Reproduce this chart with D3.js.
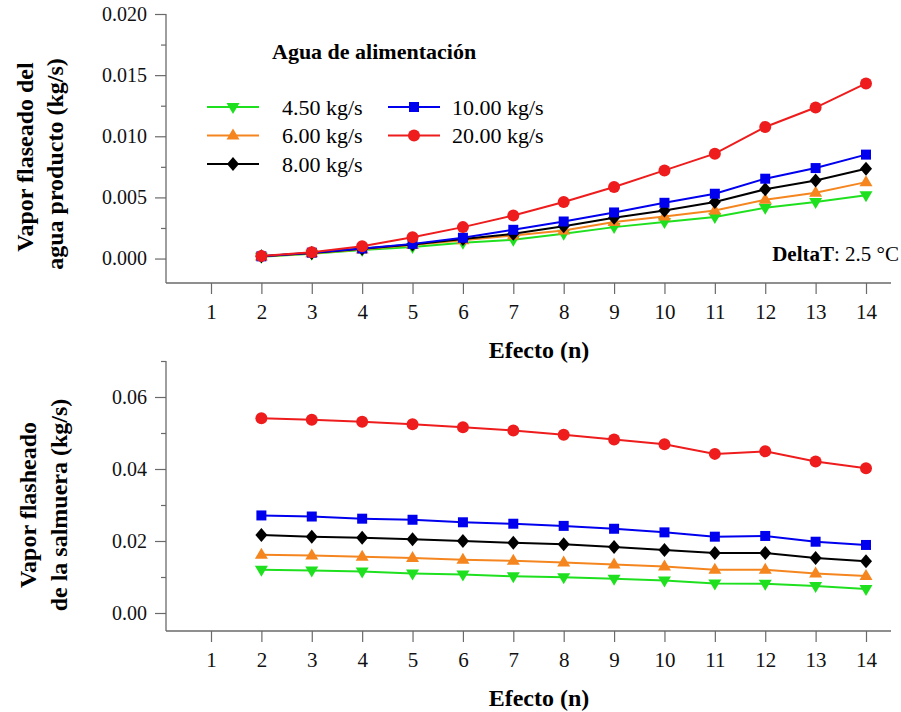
<!DOCTYPE html>
<html>
<head>
<meta charset="utf-8">
<script src="https://cdn.jsdelivr.net/npm/d3@7"></script>
<style>
  html, body { margin: 0; padding: 0; background: #fff; }
  svg { display: block; font-family: "Liberation Serif", "Times New Roman", serif; }
</style>
</head>
<body>
<svg id="chart" width="901" height="712"></svg>
<script>
// ---------------- DATA ----------------
const effects = [2, 3, 4, 5, 6, 7, 8, 9, 10, 11, 12, 13, 14];
const xTickValues = [1, 2, 3, 4, 5, 6, 7, 8, 9, 10, 11, 12, 13, 14];
const feedLabels = ["4.50 kg/s", "6.00 kg/s", "8.00 kg/s", "10.00 kg/s", "20.00 kg/s"];
const seriesColors = ["#1fe01f", "#f5861f", "#000000", "#0000ee", "#ee1c1c"];
const seriesMarkers = ["triangleDown", "triangleUp", "diamond", "square", "circle"];

// Top chart: Vapor flaseado del agua producto (kg/s)
const topFeed450 = [0.00015, 0.0004, 0.0007, 0.00095, 0.0013, 0.00153, 0.00202, 0.00257, 0.00298, 0.00339, 0.00415, 0.00462, 0.00518];
const topFeed600 = [0.00017, 0.00044, 0.00075, 0.0011, 0.0015, 0.00189, 0.0023, 0.00298, 0.00344, 0.00393, 0.00481, 0.00538, 0.00625];
const topFeed800 = [0.00018, 0.00046, 0.0008, 0.00115, 0.0016, 0.00202, 0.00265, 0.00333, 0.00393, 0.00462, 0.00566, 0.00639, 0.00735];
const topFeed1000 = [0.00018, 0.00048, 0.00082, 0.0012, 0.0017, 0.00235, 0.00303, 0.00377, 0.00456, 0.0053, 0.00653, 0.0074, 0.0085];
const topFeed2000 = [0.0002, 0.00052, 0.00101, 0.00175, 0.00257, 0.00352, 0.00462, 0.00585, 0.00721, 0.00858, 0.01076, 0.01235, 0.01432];

// Bottom chart: Vapor flasheado de la salmuera (kg/s)
const botFeed450 = [0.012, 0.0118, 0.0115, 0.011, 0.0107, 0.0102, 0.0099, 0.0095, 0.009, 0.0082, 0.0081, 0.0075, 0.0067];
const botFeed600 = [0.0162, 0.016, 0.0156, 0.0153, 0.0148, 0.0145, 0.014, 0.0135, 0.0129, 0.012, 0.012, 0.011, 0.0103];
const botFeed800 = [0.0217, 0.0212, 0.0209, 0.0205, 0.02, 0.0195, 0.0191, 0.0183, 0.0175, 0.0167, 0.0167, 0.0153, 0.0144];
const botFeed1000 = [0.0271, 0.0268, 0.0262, 0.0259, 0.0252, 0.0248, 0.0242, 0.0234, 0.0224, 0.0212, 0.0214, 0.0198, 0.0189];
const botFeed2000 = [0.0541, 0.0537, 0.0531, 0.0524, 0.0516, 0.0507, 0.0495, 0.0482, 0.0469, 0.0442, 0.0449, 0.0421, 0.0402];

const topMajorTicks = [0, 0.005, 0.010, 0.015, 0.020];
const topMinorTicks = [0.0025, 0.0075, 0.0125, 0.0175];
const botMajorTicks = [0, 0.02, 0.04, 0.06];
const botMinorTicks = [0.01, 0.03, 0.05, 0.07];

// ---------------- DRAW ----------------
const svg = d3.select("#chart");
const axisColor = "#6a6a6a";

function markerPath(type) {
  switch (type) {
    case "circle": return d3.symbol(d3.symbolCircle, Math.PI * 6 * 6)();
    case "square": return "M-5,-5H5V5H-5Z";
    case "diamond": return "M0,-7L6,0L0,7L-6,0Z";
    case "triangleUp": return "M0,-7L6.5,4L-6.5,4Z";
    case "triangleDown": return "M0,7L6.5,-4L-6.5,-4Z";
  }
}

const x = d3.scaleLinear().domain([1, 14]).range([211, 866]);
const axisLeftX = 166, axisRightX = 891;

function drawPanel(cfg) {
  const g = svg.append("g");
  const y = d3.scaleLinear().domain(cfg.yDomain).range([cfg.yBottom, cfg.yTop]);

  // axis lines
  g.append("line").attr("x1", axisLeftX).attr("x2", axisLeftX)
    .attr("y1", cfg.yTop).attr("y2", cfg.yBottom)
    .attr("stroke", axisColor).attr("stroke-width", 1.3);
  g.append("line").attr("x1", axisLeftX).attr("x2", axisRightX)
    .attr("y1", cfg.yBottom).attr("y2", cfg.yBottom)
    .attr("stroke", axisColor).attr("stroke-width", 1.3);

  // x axis ticks + labels
  const xAxis = d3.axisBottom(x).tickValues(xTickValues).tickSize(11).tickPadding(10)
    .tickFormat(d3.format("d"));
  const xg = g.append("g").attr("transform", `translate(0,${cfg.yBottom})`).call(xAxis);
  xg.select(".domain").remove();
  xg.selectAll(".tick line").attr("stroke", axisColor).attr("stroke-width", 1.2);
  xg.selectAll(".tick text").attr("font-size", 21).attr("fill", "#111")
    .attr("font-family", "Liberation Serif");

  // y axis major
  const yAxis = d3.axisLeft(y).tickValues(cfg.majorTicks).tickSize(11).tickPadding(8)
    .tickFormat(d3.format(cfg.fmt));
  const yg = g.append("g").attr("transform", `translate(${axisLeftX},0)`).call(yAxis);
  yg.select(".domain").remove();
  yg.selectAll(".tick line").attr("stroke", axisColor).attr("stroke-width", 1.2);
  yg.selectAll(".tick text").attr("font-size", 20).attr("fill", "#111")
    .attr("font-family", "Liberation Serif");
  // y axis minor
  const ym = d3.axisLeft(y).tickValues(cfg.minorTicks).tickSize(5).tickFormat("");
  const ymg = g.append("g").attr("transform", `translate(${axisLeftX},0)`).call(ym);
  ymg.select(".domain").remove();
  ymg.selectAll(".tick line").attr("stroke", axisColor).attr("stroke-width", 1.2);

  // x title
  g.append("text").attr("x", 539).attr("y", cfg.yBottom + 75)
    .attr("text-anchor", "middle").attr("font-size", 24).attr("font-weight", "bold")
    .text("Efecto (n)");

  // y titles (two lines)
  cfg.yTitle.forEach((t, i) => {
    g.append("text")
      .attr("transform", `translate(${cfg.yTitlePos[i][0]},${cfg.yTitlePos[i][1]}) rotate(-90)`)
      .attr("text-anchor", "middle").attr("font-size", 24).attr("font-weight", "bold")
      .text(t);
  });

  // series
  const line = d3.line().x((d, i) => x(effects[i])).y(d => y(d));
  cfg.series.forEach((vals, s) => {
    g.append("path").datum(vals).attr("d", line)
      .attr("fill", "none").attr("stroke", seriesColors[s]).attr("stroke-width", 2);
    g.append("g").selectAll("path").data(vals).join("path")
      .attr("transform", (d, i) => `translate(${x(effects[i])},${y(d)})`)
      .attr("d", markerPath(seriesMarkers[s]))
      .attr("fill", seriesColors[s]);
  });
  return g;
}

drawPanel({
  yDomain: [-0.002, 0.020], yTop: 14, yBottom: 283,
  majorTicks: topMajorTicks, minorTicks: topMinorTicks, fmt: ".3f",
  yTitle: ["Vapor flaseado del", "agua producto (kg/s)"],
  yTitlePos: [[33, 157], [63, 164]],
  series: [topFeed450, topFeed600, topFeed800, topFeed1000, topFeed2000]
});

drawPanel({
  yDomain: [-0.005, 0.07], yTop: 361, yBottom: 631,
  majorTicks: botMajorTicks, minorTicks: botMinorTicks, fmt: ".2f",
  yTitle: ["Vapor flasheado", "de la salmuera (kg/s)"],
  yTitlePos: [[36, 505], [67, 505]],
  series: [botFeed450, botFeed600, botFeed800, botFeed1000, botFeed2000]
});

// Legend
const leg = svg.append("g");
leg.append("text").attr("x", 272).attr("y", 59).attr("font-size", 22)
  .attr("font-weight", "bold").text("Agua de alimentación");
const legendPos = [
  [207, 107, 75], [207, 135.5, 75], [207, 164, 75], [388, 107, 64], [388, 135.5, 64]
];
feedLabels.forEach((lab, s) => {
  const [lx, ly, tOff] = legendPos[s];
  leg.append("line").attr("x1", lx).attr("x2", lx + 52).attr("y1", ly).attr("y2", ly)
    .attr("stroke", seriesColors[s]).attr("stroke-width", 2);
  leg.append("path").attr("transform", `translate(${lx + 26},${ly})`)
    .attr("d", markerPath(seriesMarkers[s])).attr("fill", seriesColors[s]);
  leg.append("text").attr("x", lx + tOff).attr("y", ly + 7.5).attr("font-size", 22)
    .text(lab);
});

// DeltaT annotation
const dt = svg.append("text").attr("x", 899).attr("y", 261).attr("text-anchor", "end")
  .attr("font-size", 21);
dt.append("tspan").attr("font-weight", "bold").text("DeltaT");
dt.append("tspan").text(": 2.5 °C");
</script>
</body>
</html>
